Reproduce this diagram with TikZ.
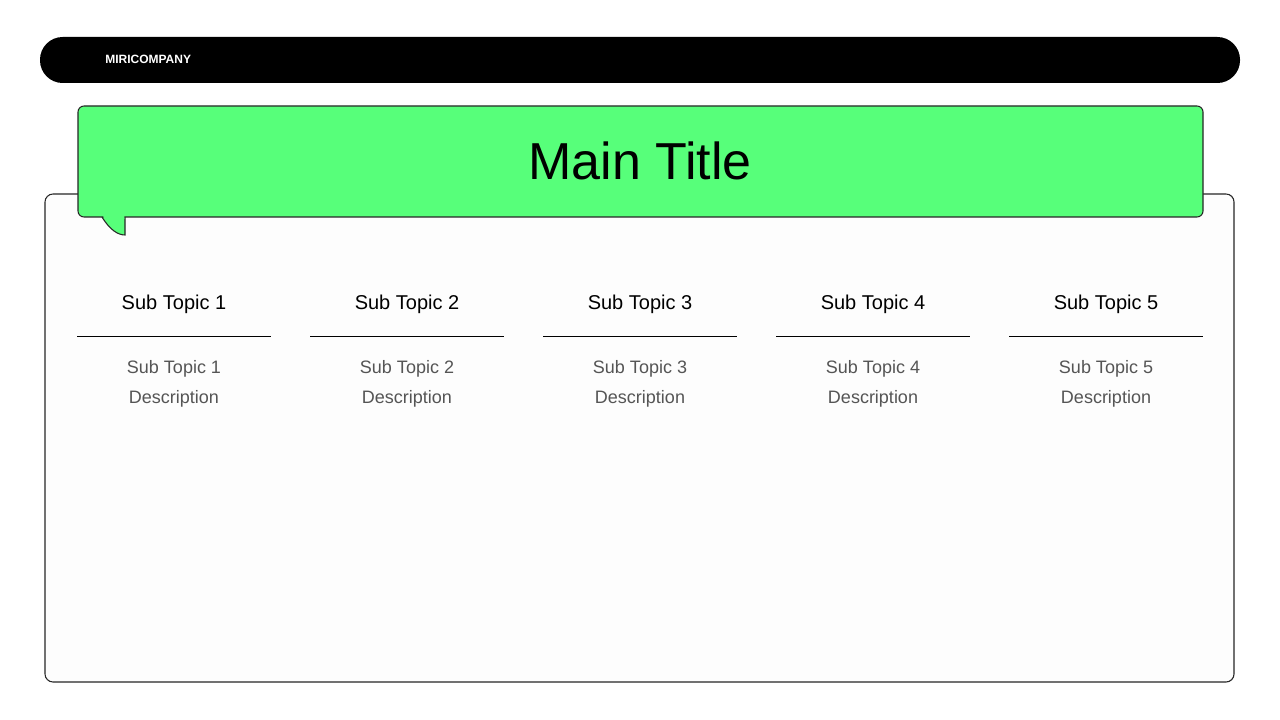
\documentclass[tikz,border=0pt]{standalone}
\usepackage{fontspec}
\setmainfont{Liberation Sans}
\definecolor{grn}{HTML}{57FF7A}
\definecolor{desc}{HTML}{555555}
\begin{document}
\begin{tikzpicture}[x=0.75pt,y=-0.75pt,
  head/.style={font=\fontsize{15}{18}\selectfont, text=black},
  descr/.style={font=\fontsize{13.5}{22}\selectfont, text=desc, align=center},
  rule/.style={draw=black, line width=0.6pt}]
\useasboundingbox (0,0) rectangle (1280,720);
\fill[white] (0,0) rectangle (1280,720);
\fill[black, rounded corners=17pt] (40,37) rectangle (1240,83);
\node[anchor=west, inner sep=0pt, text=white, font=\fontsize{9}{10}\selectfont\bfseries] (brand) at (105,59.5) {MIRICOMPANY};
\draw[fill={rgb,255:red,253;green,253;blue,253}, draw=black!85, line width=0.8pt, rounded corners=6pt] (45,194) rectangle (1234,682);
\draw[fill=grn, draw=black!85, line width=0.8pt] (102,217) .. controls (110,230) and (118,235) .. (125,235) -- (125,217);
\draw[fill=grn, draw=black!85, line width=0.8pt, rounded corners=4.5pt] (78,106) rectangle (1203,217);
\fill[grn] (103,215) -- (124.4,215) -- (124.4,219) -- (104,219) -- cycle;
\node[font=\fontsize{39}{42}\selectfont] (title) at (640,161) {Main Title};
\foreach \i/\x in {1/174,2/407,3/640,4/873,5/1106}{
  \node[head] (h\i) at (\x,304) {Sub Topic \i};
  \coordinate (l\i) at (\x-97,336);
  \coordinate (r\i) at (\x+97,336);
  \draw[rule] (l\i) -- (r\i);
  \node[descr] (d\i) at (\x,384) {Sub Topic \i\\Description};
}
\end{tikzpicture}
\end{document}
